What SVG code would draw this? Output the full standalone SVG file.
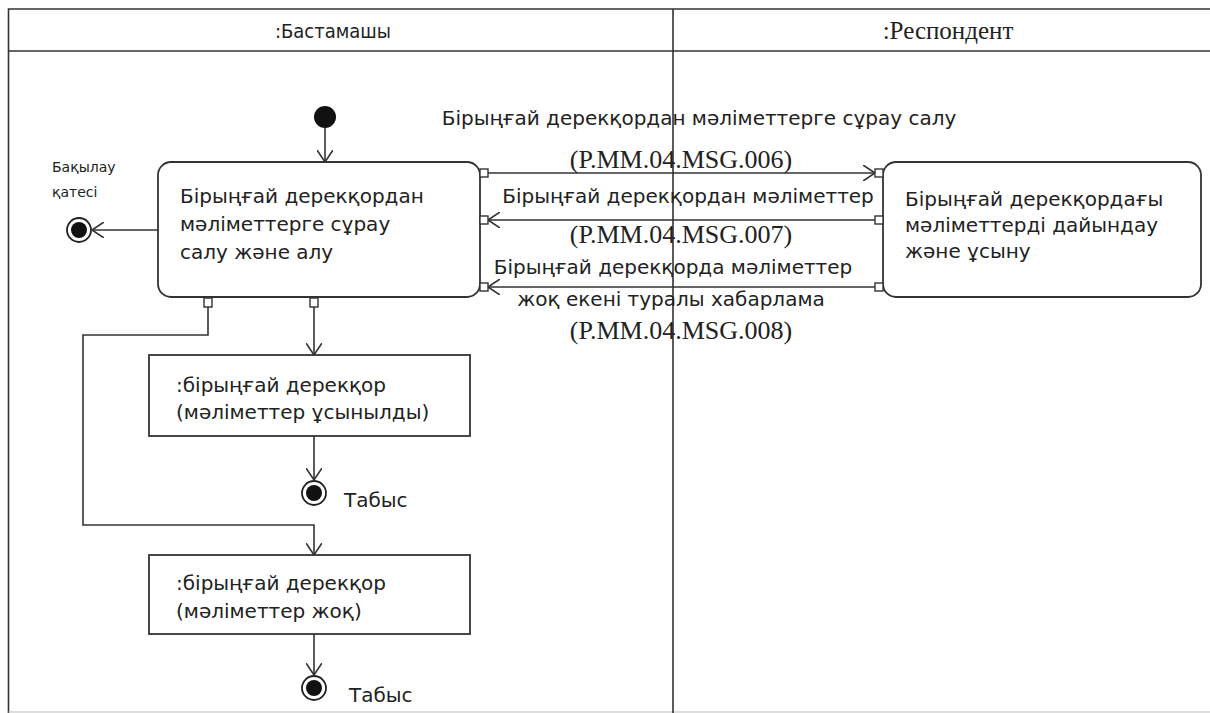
<svg xmlns="http://www.w3.org/2000/svg" width="1210" height="713" viewBox="0 0 1210 713">
<defs>
<style>
.ln{fill:none;stroke:#333;stroke-width:1.6}
.box{fill:#fff;stroke:#333;stroke-width:1.8}
.pin{fill:#fff;stroke:#333;stroke-width:1.4}
.t{font-family:"DejaVu Sans","Noto Sans",sans-serif;font-size:20px;fill:#222}
.lbl{font-family:"DejaVu Sans","Noto Sans",sans-serif;font-size:20px;fill:#222}
.code{font-family:"Liberation Serif","Times New Roman",serif;font-size:26px;fill:#222}
.small{font-family:"DejaVu Sans","Noto Sans",sans-serif;font-size:14px;fill:#222}
</style>
<marker id="arr" viewBox="0 0 12 16" refX="12" refY="8" markerWidth="12" markerHeight="16" markerUnits="userSpaceOnUse" orient="auto">
<path d="M0,0 L12,8 L0,16" fill="none" stroke="#333" stroke-width="1.6"/>
</marker>
</defs>
<rect width="1210" height="713" fill="#fff"/>
<g id="frame">
<path class="ln" d="M1210,9 H8.5 V713" stroke-width="2"/>
<line x1="8.5" y1="712" x2="1210" y2="712" stroke="#bbb" stroke-width="1"/>
<line class="ln" x1="8.5" y1="51" x2="1210" y2="51" stroke-width="2"/>
<line class="ln" x1="673" y1="9" x2="673" y2="713"/>
<text x="333" y="38" text-anchor="middle" style="font-family:'DejaVu Sans Condensed','Liberation Sans Narrow',sans-serif;font-stretch:condensed;font-size:20px;fill:#222">:Бастамашы</text>
<text x="948" y="39" text-anchor="middle" style="font-family:'Liberation Serif',serif;font-size:25px;fill:#222">:Респондент</text>
</g>
<g id="connectors">
<line class="ln" x1="325" y1="128" x2="325" y2="162" marker-end="url(#arr)"/>
<line class="ln" x1="158" y1="230" x2="92" y2="230" marker-end="url(#arr)"/>
<line class="ln" x1="488" y1="173" x2="875" y2="173" marker-end="url(#arr)"/>
<line class="ln" x1="875" y1="220" x2="488" y2="220" marker-end="url(#arr)"/>
<line class="ln" x1="875" y1="287" x2="488" y2="287" marker-end="url(#arr)"/>
<line class="ln" x1="314" y1="307" x2="314" y2="355" marker-end="url(#arr)"/>
<line class="ln" x1="314" y1="436" x2="314" y2="480" marker-end="url(#arr)"/>
<path class="ln" d="M208,307 V335 H83 V525 H314 V555" marker-end="url(#arr)"/>
<line class="ln" x1="314" y1="634" x2="314" y2="675" marker-end="url(#arr)"/>
</g>
<g id="initial"><circle cx="325" cy="117" r="11" fill="#111"/></g>
<g id="final-error">
<circle cx="79" cy="230" r="12" fill="#fff" stroke="#222" stroke-width="1.8"/>
<circle cx="79" cy="230" r="8" fill="#111"/>
<text class="small" x="52" y="172">Бақылау</text>
<text class="small" x="52" y="197">қатесі</text>
</g>
<g id="act-request">
<rect class="box" x="158" y="162" width="322" height="135" rx="13"/>
<text class="t" x="180" y="203">Бірыңғай дерекқордан</text>
<text class="t" x="180" y="231">мәліметтерге сұрау</text>
<text class="t" x="180" y="259">салу және алу</text>
<rect class="pin" x="480" y="169" width="8" height="8"/>
<rect class="pin" x="480" y="216" width="8" height="8"/>
<rect class="pin" x="480" y="283" width="8" height="8"/>
<rect class="pin" x="204" y="298" width="8" height="9"/>
<rect class="pin" x="310" y="298" width="8" height="9"/>
</g>
<g id="act-respond">
<rect class="box" x="883" y="162" width="318" height="135" rx="13"/>
<text class="t" x="905" y="206">Бірыңғай дерекқордағы</text>
<text class="t" x="905" y="232">мәліметтерді дайындау</text>
<text class="t" x="905" y="258">және ұсыну</text>
<rect class="pin" x="875" y="169" width="8" height="8"/>
<rect class="pin" x="875" y="216" width="8" height="8"/>
<rect class="pin" x="875" y="283" width="8" height="8"/>
</g>
<g id="msg-labels">
<text class="lbl" x="699" y="125" text-anchor="middle">Бірыңғай дерекқордан мәліметтерге сұрау салу</text>
<text class="code" x="681" y="168" text-anchor="middle">(P.MM.04.MSG.006)</text>
<text class="lbl" x="688" y="203" text-anchor="middle">Бірыңғай дерекқордан мәліметтер</text>
<text class="code" x="681" y="243" text-anchor="middle">(P.MM.04.MSG.007)</text>
<text class="lbl" x="673" y="274" text-anchor="middle">Бірыңғай дерекқорда мәліметтер</text>
<text class="lbl" x="671" y="306" text-anchor="middle">жоқ екені туралы хабарлама</text>
<text class="code" x="681" y="339" text-anchor="middle">(P.MM.04.MSG.008)</text>
</g>
<g id="obj-provided">
<rect class="box" x="149" y="355" width="321" height="81"/>
<text class="t" x="176" y="392">:бірыңғай дерекқор</text>
<text class="t" x="176" y="419">(мәліметтер ұсынылды)</text>
</g>
<g id="final-success-1">
<circle cx="314" cy="493" r="12" fill="#fff" stroke="#222" stroke-width="1.8"/>
<circle cx="314" cy="493" r="8" fill="#111"/>
<text class="t" x="344" y="507">Табыс</text>
</g>
<g id="obj-none">
<rect class="box" x="149" y="555" width="321" height="79"/>
<text class="t" x="176" y="590">:бірыңғай дерекқор</text>
<text class="t" x="176" y="618">(мәліметтер жоқ)</text>
</g>
<g id="final-success-2">
<circle cx="314" cy="688" r="12" fill="#fff" stroke="#222" stroke-width="1.8"/>
<circle cx="314" cy="688" r="8" fill="#111"/>
<text class="t" x="349" y="702">Табыс</text>
</g>
</svg>
